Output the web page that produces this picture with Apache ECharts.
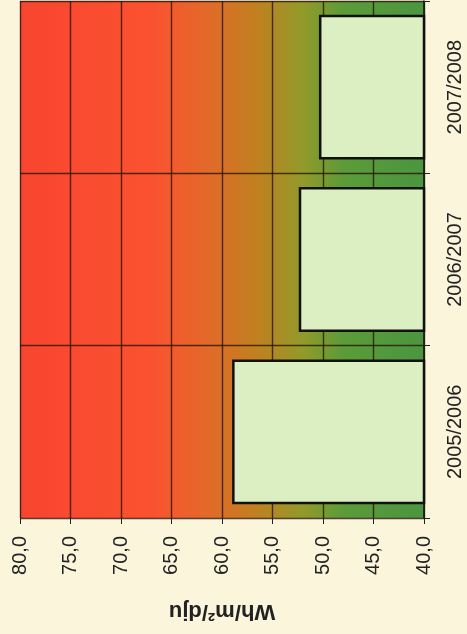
<!DOCTYPE html>
<html>
<head>
<meta charset="utf-8">
<script src="https://cdn.jsdelivr.net/npm/echarts@6/dist/echarts.min.js"></script>
<style>
html,body{margin:0;padding:0;background:#fbf5dc;}
#chart{width:467px;height:634px;}
</style>
</head>
<body>
<div id="chart"></div>
<script>
const categories = ['2005/2006', '2006/2007', '2007/2008'];
const values = [59.0, 52.4, 50.4];
const axisMin = 40;
const axisMax = 80;
const axisStep = 5;
const axisTitle = 'Wh/m²/dju';

const chart = echarts.init(document.getElementById('chart'));
chart.setOption({
  backgroundColor: '#fbf5dc',
  textStyle: { fontFamily: 'Liberation Sans, Arial, sans-serif' },
  grid: {
    left: 20, right: 43, top: 1, bottom: 116,
    containLabel: false,
    outerBoundsMode: 'none',
    show: true,
    borderWidth: 0,
    backgroundColor: {
      type: 'linear', x: 0, y: 0, x2: 1, y2: 0,
      colorStops: [
        { offset: 0, color: '#f9452f' },
        { offset: 0.33, color: '#fa5230' },
        { offset: 0.45, color: '#e6672a' },
        { offset: 0.58, color: '#c27f20' },
        { offset: 0.70, color: '#929a2a' },
        { offset: 0.80, color: '#5c9b38' },
        { offset: 1, color: '#4a9640' }
      ]
    }
  },
  xAxis: {
    type: 'value',
    min: axisMin, max: axisMax, interval: axisStep,
    inverse: true,
    position: 'bottom',
    name: axisTitle,
    nameLocation: 'middle',
    nameRotate: 180,
    nameGap: 82,
    nameTextStyle: { fontSize: 22, fontWeight: 'bold', color: '#222', fontFamily: 'Liberation Sans, Arial, sans-serif' },
    axisLine: { show: false },
    axisTick: { show: true, length: 6, lineStyle: { color: '#222', width: 1 } },
    axisLabel: {
      rotate: 90, fontSize: 20, color: '#222', margin: 18,
      formatter: v => v.toFixed(1).replace('.', ',')
    },
    splitLine: { show: true, lineStyle: { color: 'rgba(40,20,10,0.8)', width: 1.4 } }
  },
  yAxis: {
    type: 'category',
    data: categories,
    position: 'right',
    axisLine: { show: true, lineStyle: { color: '#111', width: 1.5 } },
    axisTick: { show: true, length: 6, lineStyle: { color: '#222' } },
    axisLabel: { rotate: 90, fontSize: 20, color: '#222', margin: 21 },
    splitLine: { show: true, lineStyle: { color: 'rgba(40,20,10,0.8)', width: 1.4 } }
  },
  series: [{
    type: 'bar',
    data: values,
    barCategoryGap: '16%',
    itemStyle: { color: '#dbefc2', borderColor: '#111', borderWidth: 2.5 },
    silent: true
  }]
});
</script>
</body>
</html>
